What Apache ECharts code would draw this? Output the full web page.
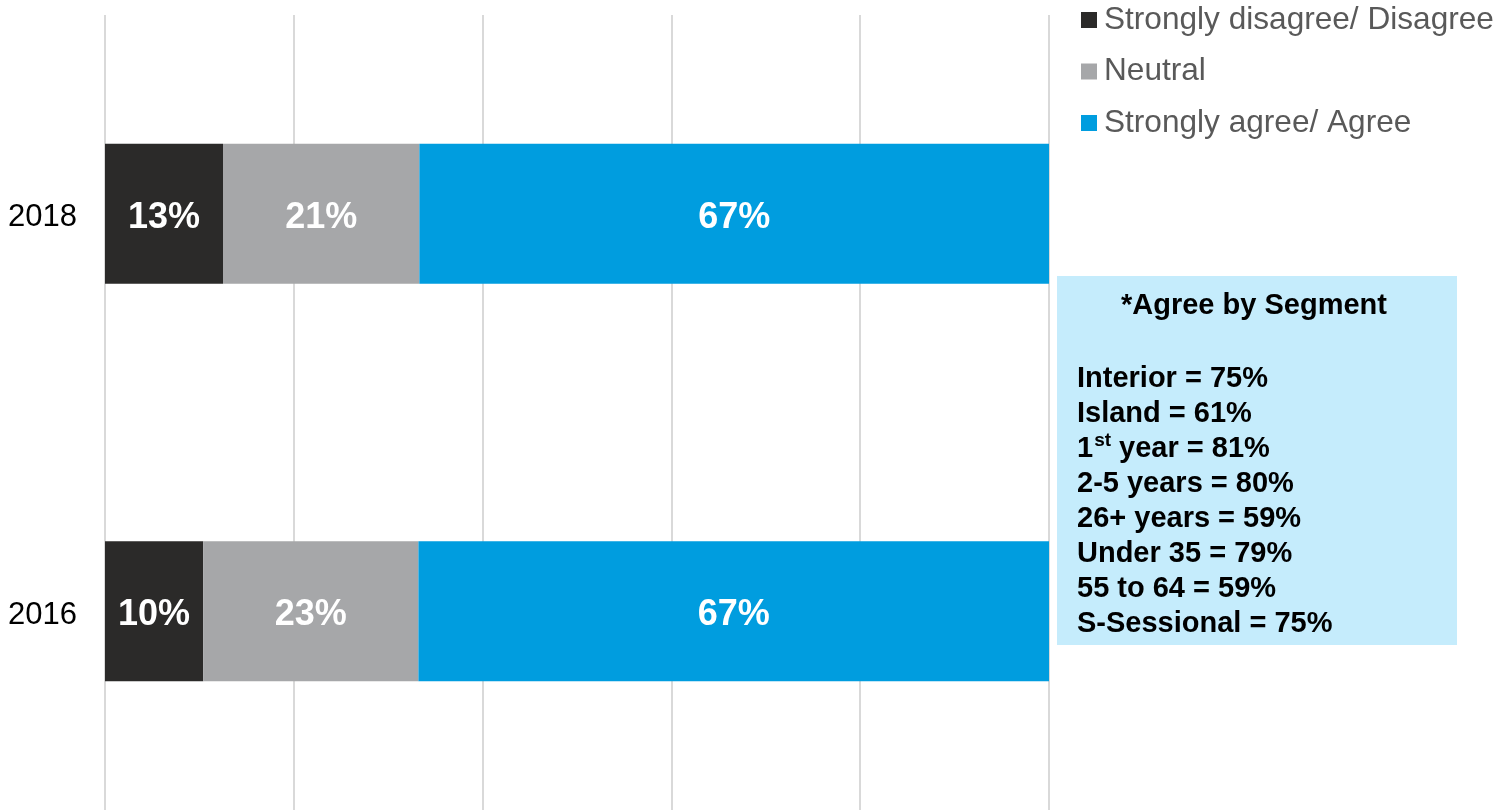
<!DOCTYPE html>
<html>
<head>
<meta charset="utf-8">
<script src="https://cdn.jsdelivr.net/npm/echarts@6/dist/echarts.min.js"></script>
<style>
	html, body { margin: 0; padding: 0; background: #fff; }
	#main { width: 1498px; height: 810px; }
</style>
</head>
<body>
<div id="main"></div>
<script>
	// categories from bottom to top
	var years = ['2016', '2018'];
	var disagree = [10.4, 12.5];
	var neutral = [22.8, 20.8];
	var agree = [66.8, 66.7];

	var seriesNames = ['Strongly disagree/ Disagree', 'Neutral', 'Strongly agree/ Agree'];
	var seriesColors = ['#2b2a29', '#a6a7a9', '#009ddf'];

	var segmentTitle = '*Agree by Segment';
	var segmentLines = [
		'{b|Interior = 75%}',
		'{b|Island = 61%}',
		'{b|1}{sup|st}{b| year = 81%}',
		'{b|2-5 years = 80%}',
		'{b|26+ years = 59%}',
		'{b|Under 35 = 79%}',
		'{b|55 to 64 = 59%}',
		'{b|S-Sessional = 75%}'
	];

	var myChart = echarts.init(document.getElementById('main'));

	function barSeries(idx, data) {
		return {
			name: seriesNames[idx],
			type: 'bar',
			stack: 'total',
			data: data,
			barWidth: 140,
			itemStyle: {
				color: seriesColors[idx]
			},
			label: {
				show: true,
				position: 'inside',
				color: '#fff',
				fontFamily: 'Liberation Sans, Arial',
				fontWeight: 'bold',
				fontSize: 36,
				offset: [0, 4],
				formatter: function (p) {
					return Math.round(p.value) + '%'
				}
			}
		}
	}

	var option = {
		animation: false,
		textStyle: {
			fontFamily: 'Liberation Sans, Arial'
		},
		grid: {
			left: 105,
			right: 449,
			top: 15,
			bottom: -1,
			containLabel: false
		},
		legend: {
			orient: 'vertical',
			left: 1081,
			top: 4,
			padding: 0,
			itemWidth: 16,
			itemHeight: 16,
			itemGap: 19.5,
			icon: 'rect',
			data: seriesNames.slice(),
			textStyle: {
				color: '#595959',
				fontSize: 31.6,
				fontFamily: 'Liberation Sans, Arial',
				padding: [0, 0, 0, 2]
			}
		},
		xAxis: {
			type: 'value',
			min: 0,
			max: 100,
			interval: 20,
			axisLabel: { show: false },
			axisLine: { show: false },
			axisTick: { show: false },
			splitLine: {
				show: true,
				lineStyle: {
					color: '#d9d9d9',
					width: 2
				}
			}
		},
		yAxis: {
			type: 'category',
			data: years,
			axisLine: { show: false },
			axisTick: { show: false },
			axisLabel: {
				margin: 28,
				formatter: '{y|{value}}',
				rich: {
					y: {
						color: '#000',
						fontSize: 31,
						fontFamily: 'Liberation Sans, Arial',
						padding: [8, 0, 0, 0]
					}
				}
			}
		},
		graphic: [{
				type: 'rect',
				left: 1057,
				top: 276,
				shape: { width: 400, height: 369 },
				style: { fill: '#c5ecfc' }
			},
			{
				type: 'text',
				left: 1121,
				top: 291,
				style: {
					text: segmentTitle,
					fill: '#000',
					font: 'bold 29px Liberation Sans, Arial'
				}
			},
			{
				type: 'text',
				left: 1077,
				top: 361,
				style: {
					text: segmentLines.join('\n'),
					fill: '#000',
					lineHeight: 35,
					rich: {
						b: {
							fontFamily: 'Liberation Sans, Arial',
							fontWeight: 'bold',
							fontSize: 29,
							lineHeight: 35,
							fill: '#000'
						},
						sup: {
							fontFamily: 'Liberation Sans, Arial',
							fontWeight: 'bold',
							fontSize: 19,
							lineHeight: 35,
							verticalAlign: 'top',
							padding: [0, 0, 10, 1],
							fill: '#000'
						}
					}
				}
			}
		],
		series: [
			barSeries(0, disagree),
			barSeries(1, neutral),
			barSeries(2, agree)
		]
	};

	option && myChart.setOption(option);
</script>
</body>
</html>
